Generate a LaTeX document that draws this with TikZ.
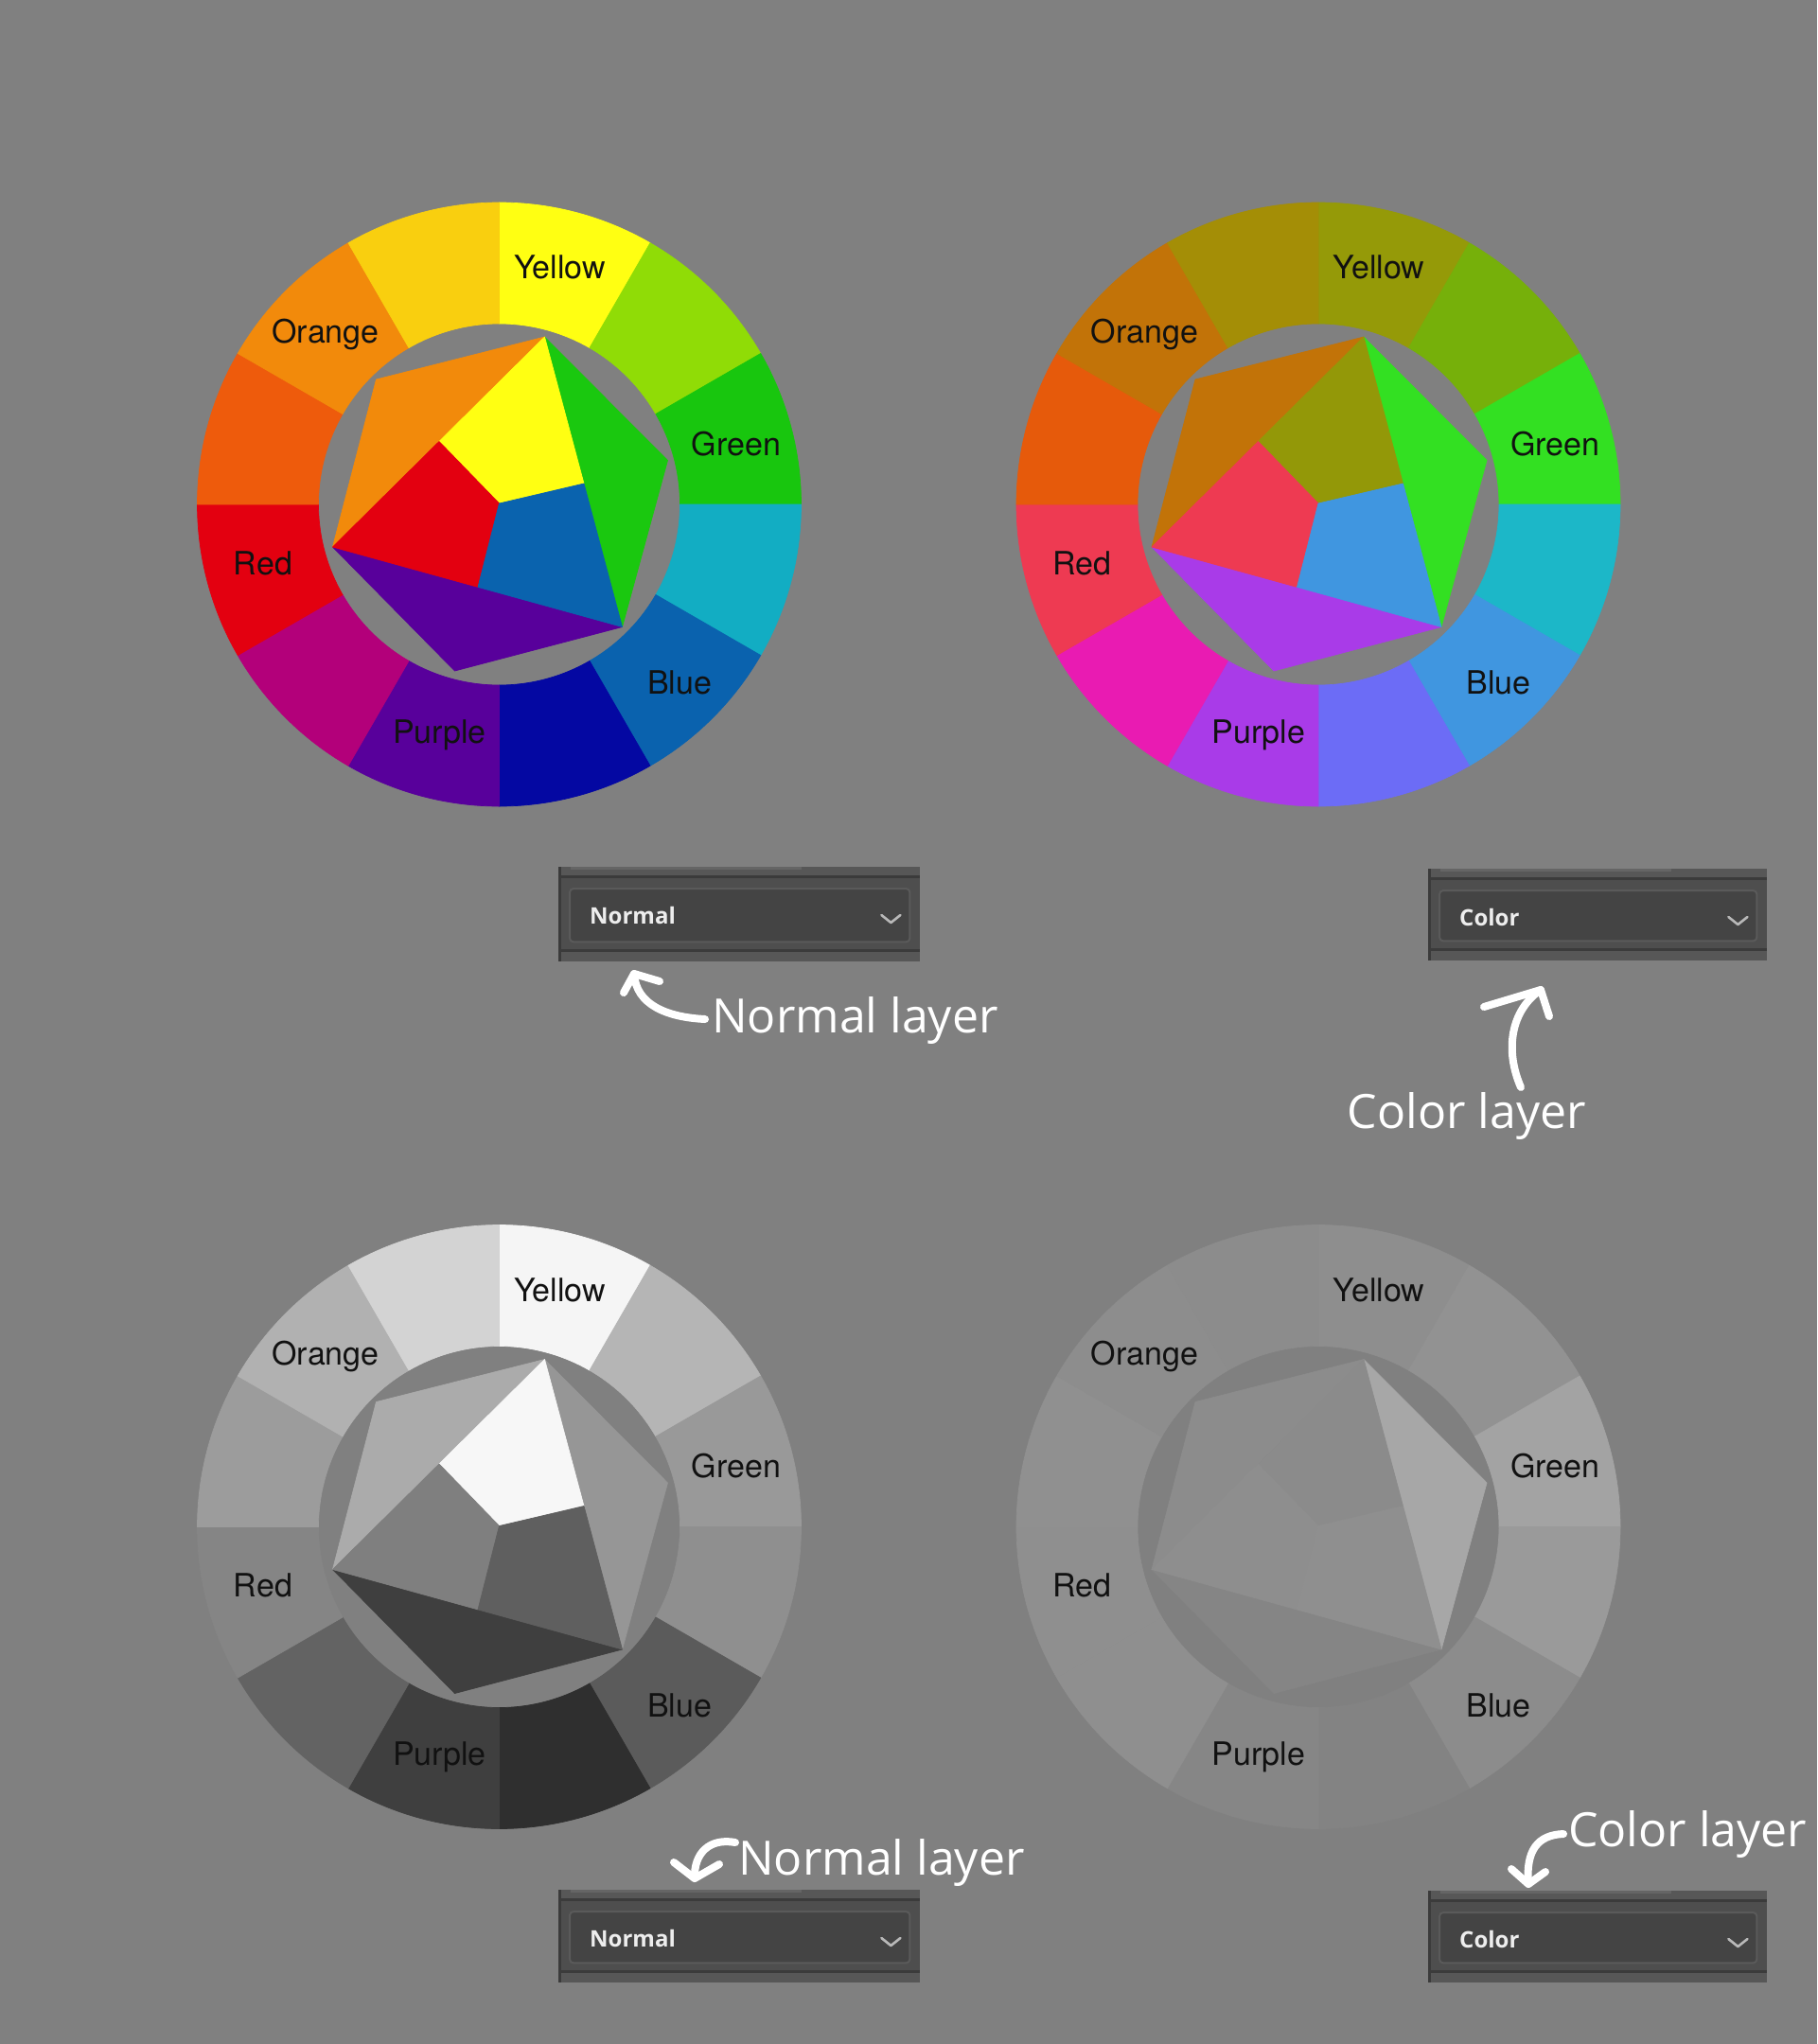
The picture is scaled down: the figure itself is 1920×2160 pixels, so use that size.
\documentclass[tikz,border=0pt]{standalone}
\usepackage{fontspec}
\newfontfamily\labelfont{TeX Gyre Heros}
\newfontfamily\handfont{Open Sans}
\newfontfamily\uifont{Open Sans}
\definecolor{bg}{HTML}{808080}
\definecolor{labeltxt}{HTML}{111111}
\definecolor{ddbody}{HTML}{4E4E4E}
\definecolor{ddstrip}{HTML}{575757}
\definecolor{dddark}{HTML}{3B3B3B}
\definecolor{ddinnerfill}{HTML}{444444}
\definecolor{ddinnerline}{HTML}{5A5A5A}
\definecolor{ddtop}{HTML}{656565}
% wheel A : normal
\definecolor{As1}{HTML}{FFFF12}\definecolor{As2}{HTML}{90DC06}\definecolor{As3}{HTML}{18C60E}
\definecolor{As4}{HTML}{12ADC3}\definecolor{As5}{HTML}{0A62AE}\definecolor{As6}{HTML}{0408A2}
\definecolor{As7}{HTML}{58009B}\definecolor{As8}{HTML}{B3007A}\definecolor{As9}{HTML}{E30010}
\definecolor{As10}{HTML}{EE5B0C}\definecolor{As11}{HTML}{F28A0B}\definecolor{As12}{HTML}{F9CF0F}
\definecolor{Aor}{HTML}{F28A0B}\definecolor{Aye}{HTML}{FFFF12}\definecolor{Agr}{HTML}{1AC80F}
\definecolor{Are}{HTML}{E30010}\definecolor{Abl}{HTML}{0A63AE}\definecolor{Apu}{HTML}{58009B}
% wheel B : color
\definecolor{Bs1}{HTML}{959A08}\definecolor{Bs2}{HTML}{76B00A}\definecolor{Bs3}{HTML}{33E022}
\definecolor{Bs4}{HTML}{1CB7C8}\definecolor{Bs5}{HTML}{4096E0}\definecolor{Bs6}{HTML}{6C6CF6}
\definecolor{Bs7}{HTML}{A93BE8}\definecolor{Bs8}{HTML}{E91BB2}\definecolor{Bs9}{HTML}{EE3A52}
\definecolor{Bs10}{HTML}{E65A0B}\definecolor{Bs11}{HTML}{C27308}\definecolor{Bs12}{HTML}{A48E06}
\definecolor{Bor}{HTML}{C27308}\definecolor{Bye}{HTML}{939808}\definecolor{Bgr}{HTML}{33E022}
\definecolor{Bre}{HTML}{EE3A52}\definecolor{Bbl}{HTML}{4096E0}\definecolor{Bpu}{HTML}{A93BE8}
% wheel C : grey of normal
\definecolor{Cs1}{HTML}{F5F5F5}\definecolor{Cs2}{HTML}{B5B5B5}\definecolor{Cs3}{HTML}{999999}
\definecolor{Cs4}{HTML}{8F8F8F}\definecolor{Cs5}{HTML}{5B5B5B}\definecolor{Cs6}{HTML}{2F2F2F}
\definecolor{Cs7}{HTML}{3F3F3F}\definecolor{Cs8}{HTML}{636363}\definecolor{Cs9}{HTML}{858585}
\definecolor{Cs10}{HTML}{9C9C9C}\definecolor{Cs11}{HTML}{B1B1B1}\definecolor{Cs12}{HTML}{D3D3D3}
\definecolor{Cor}{HTML}{ABABAB}\definecolor{Cye}{HTML}{F7F7F7}\definecolor{Cgr}{HTML}{969696}
\definecolor{Cre}{HTML}{7F7F7F}\definecolor{Cbl}{HTML}{5F5F5F}\definecolor{Cpu}{HTML}{3F3F3F}
% wheel D : grey of color
\definecolor{Ds1}{HTML}{8E8E8E}\definecolor{Ds2}{HTML}{929292}\definecolor{Ds3}{HTML}{A3A3A3}
\definecolor{Ds4}{HTML}{9A9A9A}\definecolor{Ds5}{HTML}{8C8C8C}\definecolor{Ds6}{HTML}{838383}
\definecolor{Ds7}{HTML}{868686}\definecolor{Ds8}{HTML}{8F8F8F}\definecolor{Ds9}{HTML}{8F8F8F}
\definecolor{Ds10}{HTML}{909090}\definecolor{Ds11}{HTML}{8D8D8D}\definecolor{Ds12}{HTML}{8C8C8C}
\definecolor{Dor}{HTML}{8C8C8C}\definecolor{Dye}{HTML}{8B8B8B}\definecolor{Dgr}{HTML}{A7A7A7}
\definecolor{Dre}{HTML}{8E8E8E}\definecolor{Dbl}{HTML}{8F8F8F}\definecolor{Dpu}{HTML}{858585}

\tikzset{
  wheellabel/.style={font=\labelfont\fontsize{34}{36}\selectfont, text=labeltxt, inner sep=0pt, anchor=base},
  calltext/.style={font=\handfont\fontsize{50}{56}\selectfont, text=white, inner sep=0pt, anchor=base west},
  handarrow/.style={draw=white, line width=8pt, line cap=round, line join=round},
  ddframe/.style={fill=ddbody, draw=none, inner sep=0pt, rectangle},
  ddinner/.style={fill=ddinnerfill, draw=ddinnerline, line width=2pt, rounded corners=4pt},
  ddtext/.style={font=\uifont\bfseries\fontsize{24}{26}\selectfont, text=white!93!black, inner sep=0pt},
  ddchev/.style={draw=white!72!black, line width=2.6pt, line cap=round, line join=round},
  piece/.style={line width=0.7pt, line join=round}
}

\newcommand\colorwheel[4]{% #1 cx, #2 cy (px), #3 colour prefix, #4 node prefix
  \begin{scope}[shift={(#1,-#2)}]
    \foreach \i in {1,...,12} {
      \pgfmathsetmacro\wa{90-30*(\i-1)}
      \pgfmathsetmacro\wb{90-30*\i}
      \filldraw[piece, fill=#3s\i, draw=#3s\i] (\wa:319) arc[start angle=\wa, end angle=\wb, radius=319]
        -- (\wb:191) arc[start angle=\wb, end angle=\wa, radius=191] -- cycle;
    }
    \coordinate (pA) at (48,177);
    \coordinate (pB) at (-130,132);
    \coordinate (pC) at (-176,-45);
    \coordinate (pD) at (-47,-176);
    \coordinate (pE) at (130,-129.5);
    \coordinate (pF) at (178,46.5);
    \coordinate (pO) at (0,1);
    \coordinate (pG) at (-63.5,66.5);
    \coordinate (pH) at (89.5,22);
    \coordinate (pI) at (-22.5,-87.4);
    \filldraw[piece, fill=#3gr, draw=#3gr] (pA) -- (pF) -- (pE) -- cycle;
    \filldraw[piece, fill=#3pu, draw=#3pu] (pC) -- (pE) -- (pD) -- cycle;
    \filldraw[piece, fill=#3or, draw=#3or] (pA) -- (pB) -- (pC) -- (pG) -- cycle;
    \filldraw[piece, fill=#3ye, draw=#3ye] (pA) -- (pG) -- (pO) -- (pH) -- cycle;
    \filldraw[piece, fill=#3re, draw=#3re] (pG) -- (pC) -- (pI) -- (pO) -- cycle;
    \filldraw[piece, fill=#3bl, draw=#3bl] (pO) -- (pI) -- (pE) -- (pH) -- cycle;
    \node[wheellabel] (#4yellow) at (64,238.3) {Yellow};
    \node[wheellabel] (#4orange) at (-183.5,171) {Orange};
    \node[wheellabel] (#4green) at (250.5,52) {Green};
    \node[wheellabel] (#4red) at (-249.5,-74.4) {Red};
    \node[wheellabel] (#4blue) at (190.7,-200.7) {Blue};
    \node[wheellabel] (#4purple) at (-63,-252) {Purple};
  \end{scope}
}

\newcommand\dropdown[6]{% #1 name, #2 x, #3 y (px top), #4 width, #5 height, #6 text
  \node[ddframe, minimum width=#4pt, minimum height=#5pt, anchor=north west] (#1) at (#2,-#3) {};
  \fill[ddstrip] (#1.north west) rectangle ([yshift=-9pt]#1.north east);
  \fill[ddtop] ([xshift=13pt]#1.north west) rectangle ([xshift=257pt,yshift=-3pt]#1.north west);
  \fill[dddark] ([yshift=-9pt]#1.north west) rectangle ([yshift=-12pt]#1.north east);
  \fill[ddstrip] ([yshift=10pt]#1.south west) rectangle (#1.south east);
  \fill[dddark] ([yshift=10pt]#1.south west) rectangle ([yshift=13pt]#1.south east);
  \fill[dddark] (#1.north west) rectangle ([xshift=3pt]#1.south west);
  \draw[ddinner] ([xshift=12pt,yshift=-23pt]#1.north west) rectangle ([xshift=-11pt,yshift=21pt]#1.south east);
  \node[ddtext, anchor=base west] (#1t) at ([xshift=33pt,yshift=-60pt]#1.north west) {#6};
  \draw[ddchev] ([xshift=-41pt,yshift=-51pt]#1.north east) -- ++(10,-8) -- ++(10,8);
}

\begin{document}
\begin{tikzpicture}[x=1pt,y=1pt]
\fill[bg] (0,0) rectangle (1920,-2160);
\useasboundingbox (0,0) rectangle (1920,-2160);

\colorwheel{527.5}{533}{A}{wa}
\colorwheel{1393}{533}{B}{wb}
\colorwheel{527.5}{1613.5}{C}{wc}
\colorwheel{1393}{1613.5}{D}{wd}

\dropdown{dda}{590}{916}{382}{100}{Normal}
\dropdown{ddb}{1509}{918}{358}{97}{Color}
\dropdown{ddc}{590}{1997}{382}{98}{Normal}
\dropdown{ddd}{1509}{1998}{358}{97}{Color}

% call-out texts
\node[calltext] (ta) at (752,-1091.7) {Normal layer};
\node[calltext] (tb) at (1423.5,-1192.7) {Color layer};
\node[calltext] (tc) at (780,-1981.7) {Normal layer};
\node[calltext] (td) at (1657,-1951.7) {Color layer};

% hand-drawn arrows
\coordinate (a1s) at (745,-1077);
\coordinate (a1e) at (670,-1029);
\draw[handarrow] (a1s) .. controls (705,-1075) and (672,-1062) .. (a1e);
\draw[handarrow] (659,-1049) -- (a1e) -- (697,-1037);

\coordinate (a2s) at (1607,-1149);
\coordinate (a2e) at (1628,-1046);
\draw[handarrow] (a2s) .. controls (1590,-1110) and (1596,-1068) .. (a2e);
\draw[handarrow] (1568,-1064) -- (a2e) -- (1637,-1074);

\coordinate (a3s) at (777,-1947);
\coordinate (a3e) at (734,-1985);
\draw[handarrow] (a3s) .. controls (750,-1942) and (733,-1958) .. (a3e);
\draw[handarrow] (712,-1968) -- (a3e) -- (760,-1970);

\coordinate (a4s) at (1652,-1938);
\coordinate (a4e) at (1615,-1991);
\draw[handarrow] (a4s) .. controls (1625,-1939) and (1612,-1955) .. (a4e);
\draw[handarrow] (1597,-1975) -- (a4e) -- (1633,-1978);
\end{tikzpicture}
\end{document}
